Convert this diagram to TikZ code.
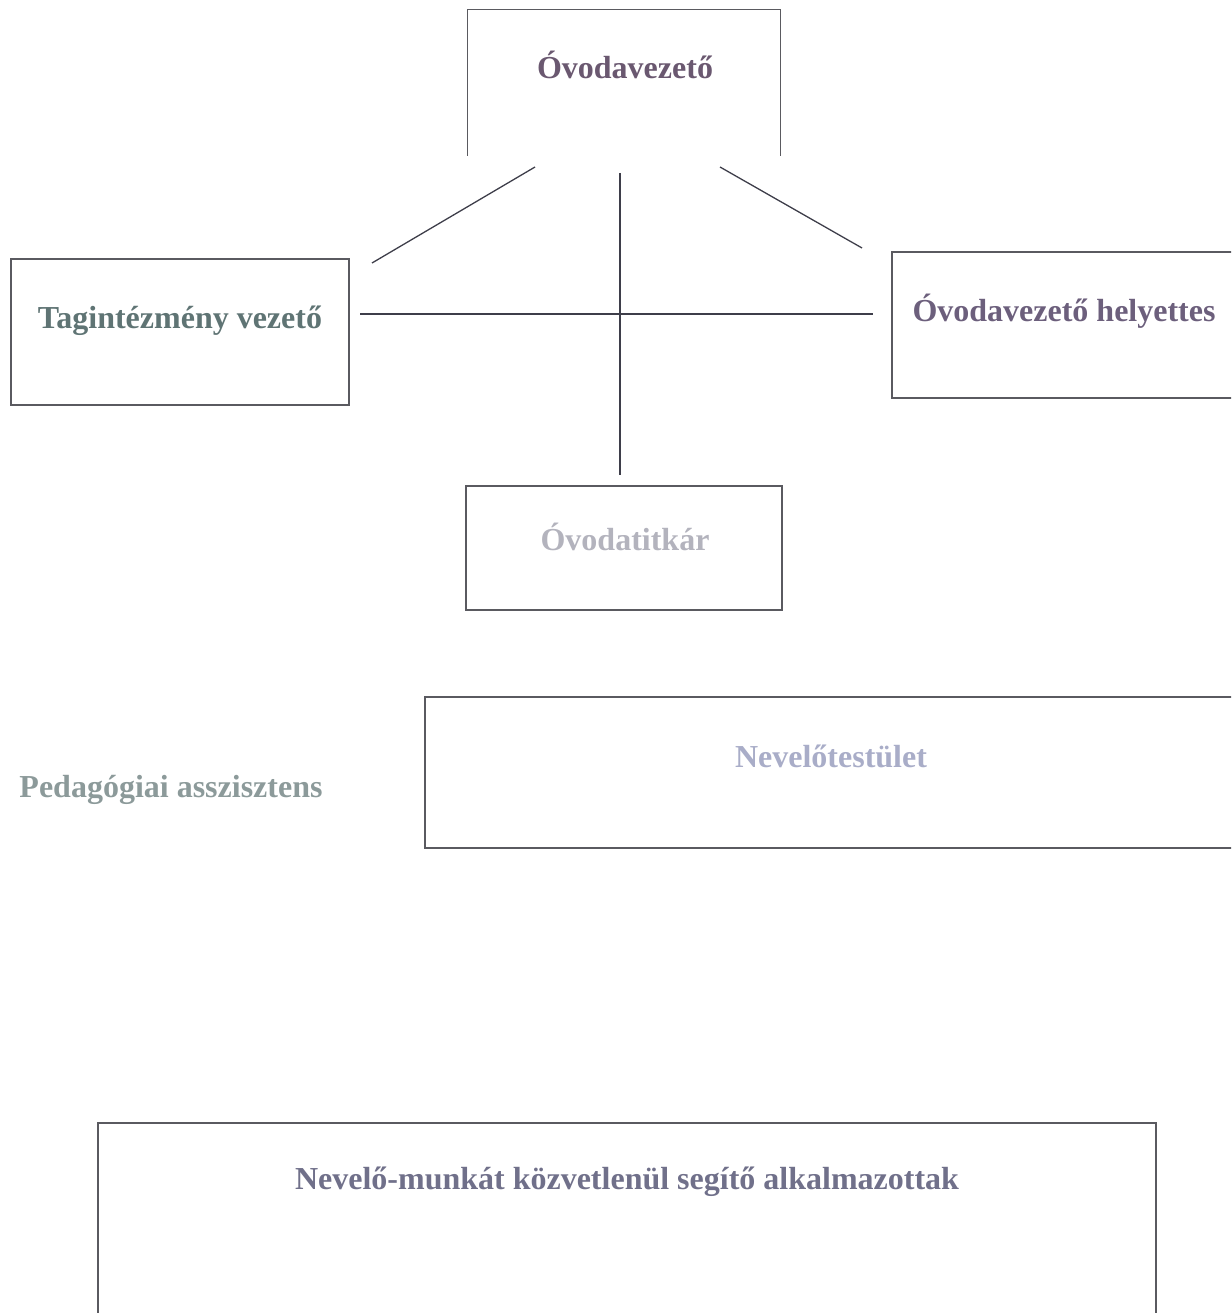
\documentclass[tikz,border=0pt]{standalone}
\usepackage{fontspec}
\setmainfont{Liberation Serif}
\usepackage{xcolor}
\usepackage{tikz}
\usetikzlibrary{positioning, calc}
\definecolor{edgegray}{HTML}{5A5A60}
\definecolor{linegray}{HTML}{3E3E4A}
\definecolor{vezcol}{HTML}{6A5870}
\definecolor{tagcol}{HTML}{5F7474}
\definecolor{helycol}{HTML}{6C5F7C}
\definecolor{titkcol}{HTML}{B3B3BD}
\definecolor{nevcol}{HTML}{A9ADC8}
\definecolor{pedcol}{HTML}{8C9A9A}
\definecolor{segcol}{HTML}{70708A}

\begin{document}
\begin{tikzpicture}[
    x = 1pt, y = -1pt,
    unit/.style = {rectangle, draw = edgegray, line width = 1.3pt, inner sep = 0pt},
    boxtext/.style = {anchor = base, inner sep = 0pt, font = \fontsize{32}{38}\selectfont\bfseries},
    path/.style = {draw = linegray, line width = 1.3pt},
    ]
    \useasboundingbox (0,0) rectangle (1231,1313);
    \clip (0,0) rectangle (1231,1313);

    % boxes
    \node [unit, draw = none, minimum width = 312pt, minimum height = 145pt] (vez)  at (624,82.5)   {};
    \node [unit, minimum width = 338pt, minimum height = 146pt]  (tag)  at (180,332)    {};
    \node [unit, minimum width = 348pt, minimum height = 146pt]  (hely) at (1066,325)   {};
    \node [unit, minimum width = 316pt, minimum height = 124pt]  (titk) at (624,548)    {};
    \node [unit, minimum width = 815pt, minimum height = 151pt]  (nev)  at (832.5,772.5) {};
    \node [unit, minimum width = 1058pt, minimum height = 207pt] (seg)  at (627,1226.5) {};

    % open box of the head
    \draw [unit, line width = 1.5pt] (vez.south west) -- (vez.north west) -- (vez.north east) -- (vez.south east);

    % texts
    \node [boxtext, text = vezcol]  (vez_t)  at (625,79)   {Óvodavezető};
    \node [boxtext, text = tagcol]  (tag_t)  at (180,328)  {Tagintézmény vezető};
    \node [boxtext, text = helycol] (hely_t) at (1064,321) {Óvodavezető helyettes};
    \node [boxtext, text = titkcol] (titk_t) at (625,550)  {Óvodatitkár};
    \node [boxtext, text = nevcol]  (nev_t)  at (831,767)  {Nevelőtestület};
    \node [boxtext, text = pedcol]  (ped_t)  at (171,797)  {Pedagógiai asszisztens};
    \node [boxtext, text = segcol]  (seg_t)  at (627,1189) {Nevelő-munkát közvetlenül segítő alkalmazottak};

    % line ends
    \coordinate (vl_a) at (535,167);
    \coordinate (vl_b) at (372,263);
    \coordinate (vr_a) at (720,167);
    \coordinate (vr_b) at (862,248);
    \coordinate (vm_a) at (620,173);
    \coordinate (vm_b) at (620,475);
    \coordinate (h_a)  at (360,314);
    \coordinate (h_b)  at (873,314);

    % draw paths
    \draw [path] (vl_a) -- (vl_b);
    \draw [path] (vr_a) -- (vr_b);
    \draw [path] (vm_a) -- (vm_b);
    \draw [path] (h_a) -- (h_b);
\end{tikzpicture}
\end{document}
